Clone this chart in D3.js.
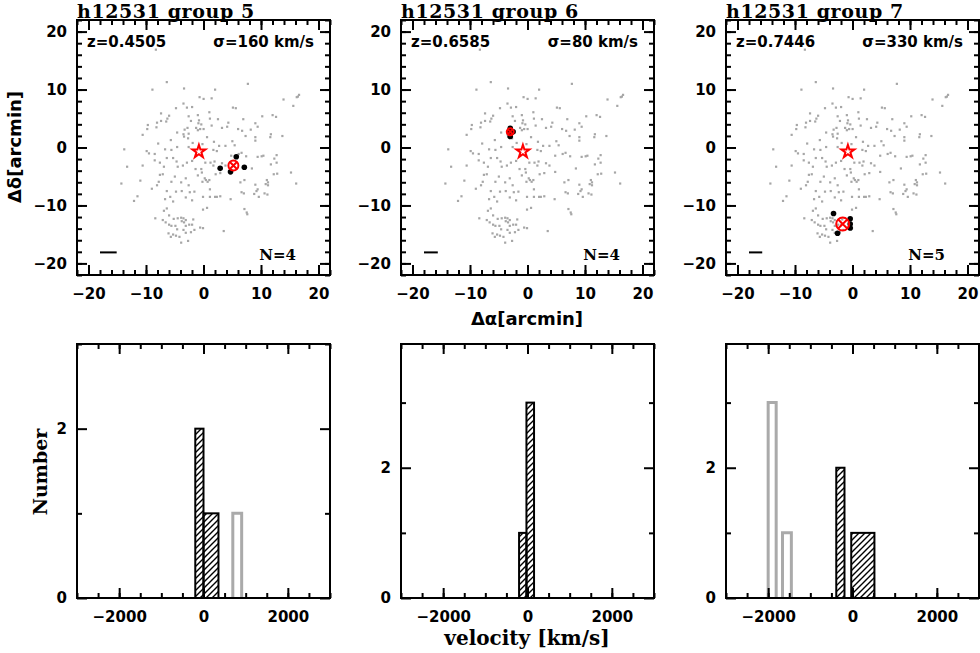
<!DOCTYPE html>
<html>
<head>
<meta charset="utf-8">
<script src="https://d3js.org/d3.v7.min.js"></script>
<style>
  body { margin: 0; background: #fff; }
  svg { display: block; }
  .tick line { stroke: #000; stroke-width: 2; }
  .tick text { font-family: "DejaVu Sans", sans-serif; font-weight: bold; font-size: 15px; fill: #000; }
</style>
</head>
<body>
<script>
// groups
const groupTitles = ["h12531 group 5", "h12531 group 6", "h12531 group 7"];
const groupZ = ["0.4505", "0.6585", "0.7446"];
const groupSigma = [160, 80, 330];
const groupN = [4, 4, 5];
const groupCenter = [[5.2, -3.1], [-3.0, 2.7], [-1.7, -13.2]];
const centerRadius = [5, 3.5, 6.5];
const brightest = [-0.8, -0.7];
const scaleBarMpc = [2.9, 2.4, 2.3];

// member galaxies (arcmin)
const members = [
  [[2.9, -3.6], [4.7, -4.2], [5.7, -1.6], [7.1, -3.4]],
  [[-3.0, 3.3], [-3.0, 1.9], [-2.5, 2.7], [-3.1, 2.6]],
  [[-3.3, -11.4], [-2.6, -14.8], [-0.4, -12.3], [-0.4, -13.2], [-0.4, -13.9]]
];

// all field galaxies with redshifts (arcmin)
const field = [
  [-8.3,16.9],[-6.4,11.3],[-8.9,10.0],[-3.4,10.2],[2.0,10.0],[7.7,11.0],[-0.7,8.7],[0.0,8.4],[1.4,8.5],
  [16.6,9.1],[16.4,8.8],[16.2,8.7],[13.9,8.3],[15.6,7.2],[-4.8,6.8],[-3.5,7.6],[-2.9,6.9],[-2.0,7.0],
  [-7.4,5.9],[-6.0,5.5],[-6.3,5.0],[5.1,6.9],[5.6,6.8],[1.0,6.1],[-2.6,5.4],[-1.0,5.6],[-0.8,4.7],
  [-7.4,4.6],[-6.5,4.5],[-8.1,4.3],[-9.7,3.9],[-8.2,3.5],[1.1,5.0],[2.5,4.9],[4.3,4.3],[10.2,5.4],
  [12.0,5.6],[12.6,5.3],[6.9,4.9],[-2.2,4.6],[-0.9,4.2],[-0.4,4.0],[-1.3,3.4],[-0.6,3.2],[-1.0,3.0],
  [-2.8,3.4],[-3.3,3.1],[9.0,4.2],[9.4,3.6],[8.2,3.1],[3.2,3.4],[4.1,3.6],[6.7,2.9],[6.0,3.2],
  [-4.6,2.6],[-3.5,2.3],[-2.6,2.4],[-10.6,2.2],[-9.8,3.2],[0.0,3.2],[1.4,3.8],[-5.7,1.3],[-3.4,1.9],
  [-2.7,1.6],[0.6,1.8],[11.7,2.3],[11.6,1.8],[13.7,2.0],[9.0,1.8],[9.0,1.2],[7.3,2.0],[-7.9,0.7],
  [-1.9,0.8],[-0.2,0.6],[1.8,1.0],[-4.6,0.1],[-2.6,0.1],[2.7,0.3],[3.8,0.3],[5.0,1.1],[5.4,0.4],
  [-13.8,-0.3],[-9.9,-0.6],[-9.5,-1.0],[-8.5,-1.1],[-6.7,-0.3],[-5.6,-0.4],[1.7,-0.4],[2.3,-0.6],
  [6.6,-0.9],[6.1,-1.1],[4.8,-1.4],[7.4,-1.5],[10.1,-1.5],[9.4,-1.6],[10.4,-1.4],[12.7,-1.3],[12.3,-1.9],
  [-6.4,-1.8],[-8.5,-2.2],[-4.7,-2.4],[-5.3,-1.8],[-2.9,-2.6],[-2.0,-2.3],[0.3,-2.6],[1.2,-2.6],[1.9,-2.4],
  [-13.3,-3.3],[-10.6,-3.1],[-7.6,-2.6],[-6.9,-3.3],[-4.5,-3.3],[-3.6,-3.1],[-1.4,-3.7],[-0.4,-3.7],
  [1.7,-3.1],[3.2,-2.7],[3.8,-3.1],[8.4,-3.6],[11.7,-2.9],[12.7,-2.6],[12.2,-4.6],[12.8,-4.5],[15.2,-4.3],
  [-7.6,-4.7],[-7.1,-4.6],[-5.0,-5.0],[-3.1,-5.3],[-1.0,-4.8],[-0.3,-4.3],[0.2,-5.3],[0.4,-5.6],[0.7,-5.9],
  [-0.2,-5.9],[1.0,-5.6],[2.1,-4.6],[2.9,-4.4],[4.8,-4.2],[-5.6,-5.9],[-7.8,-5.9],[-8.1,-6.5],[-11.0,-5.7],
  [-14.3,-6.2],[-9.0,-7.1],[-3.9,-6.0],[-2.6,-6.5],[1.1,-7.2],[7.1,-5.6],[6.4,-6.0],[11.0,-5.6],[11.2,-6.0],
  [10.8,-6.3],[11.2,-6.5],[9.0,-6.4],[9.4,-7.2],[9.2,-7.5],[16.1,-6.2],[-6.4,-7.5],[-4.8,-7.6],[-3.8,-7.5],
  [-2.4,-7.7],[-1.6,-7.6],[6.6,-7.7],[7.0,-7.9],[8.8,-8.0],[10.6,-7.9],[11.1,-8.1],[9.6,-8.5],[-11.5,-8.4],
  [-12.1,-9.2],[-6.7,-8.9],[-5.8,-8.5],[-5.3,-9.3],[-3.1,-8.6],[-2.0,-9.1],[-0.1,-8.5],[1.1,-8.5],[2.0,-8.5],
  [2.3,-8.5],[4.7,-8.9],[2.9,-8.4],[7.1,-10.6],[7.5,-11.2],[7.6,-11.5],[-0.1,-10.7],[0.6,-10.4],[-6.9,-10.9],
  [-6.4,-10.5],[-6.0,-11.7],[-8.4,-12.2],[-7.1,-12.5],[-6.6,-12.9],[-5.2,-12.3],[-4.5,-12.2],[-3.9,-12.1],
  [-3.5,-12.2],[-3.1,-12.5],[-1.8,-12.4],[-6.0,-13.3],[-5.6,-13.5],[-4.9,-13.5],[-4.6,-14.1],[-3.8,-12.7],
  [-3.4,-12.9],[-3.1,-13.5],[-2.5,-13.3],[-2.0,-13.3],[-1.6,-14.2],[-6.1,-14.8],[-5.3,-15.0],[-5.7,-15.4],
  [-3.5,-14.2],[-3.1,-14.7],[-2.2,-14.6],[-0.6,-13.8],[-0.1,-13.9],[3.5,-14.4],[-4.8,-15.2],[-4.2,-15.4],
  [-3.9,-16.4],[-2.7,-16.1]
];

// velocity histograms: [x0, x1, count]
const histMembers = [
  [[-195, 0, 2], [0, 355, 1]],
  [[-200, -25, 1], [-25, 155, 3]],
  [[-385, -190, 2], [-30, 520, 1]]
];
const histOthers = [
  [[695, 905, 1]],
  [],
  [[-2000, -1810, 3], [-1660, -1450, 1]]
];
const histYMax = [3, 3.9, 3.9];

const W = 980, H = 653;
const panelX = [77, 401, 726];
const pw = 253;
const topY = 20, topH = 255;
const botY = 344, botH = 254;

const svg = d3.select("body").append("svg").attr("width", W).attr("height", H);

const defs = svg.append("defs");
defs.append("pattern")
  .attr("id", "hatch")
  .attr("patternUnits", "userSpaceOnUse")
  .attr("width", 6).attr("height", 6)
  .append("path")
  .attr("d", "M-1,1 l2,-2 M0,6 l6,-6 M5,7 l2,-2")
  .attr("stroke", "#000").attr("stroke-width", 1.4);

function frameAxes(g, x, y, xMajor, xMinor, yMajor, yMinor, yLabels) {
  const x0 = x.range()[0], x1 = x.range()[1];
  const y0 = y.range()[0], y1 = y.range()[1];
  // minor ticks
  g.append("g").attr("transform", `translate(0,${y0})`)
    .call(d3.axisBottom(x).tickValues(xMinor).tickSize(-5).tickFormat(""));
  g.append("g").attr("transform", `translate(0,${y1})`)
    .call(d3.axisTop(x).tickValues(xMinor).tickSize(-5).tickFormat(""));
  g.append("g").attr("transform", `translate(${x0},0)`)
    .call(d3.axisLeft(y).tickValues(yMinor).tickSize(-5).tickFormat(""));
  g.append("g").attr("transform", `translate(${x1},0)`)
    .call(d3.axisRight(y).tickValues(yMinor).tickSize(-5).tickFormat(""));
  // major ticks
  g.append("g").attr("transform", `translate(0,${y0})`)
    .call(d3.axisBottom(x).tickValues(xMajor).tickSize(-10).tickPadding(13).tickFormat(d3.format("")));
  g.append("g").attr("transform", `translate(0,${y1})`)
    .call(d3.axisTop(x).tickValues(xMajor).tickSize(-10).tickFormat(""));
  g.append("g").attr("transform", `translate(${x0},0)`)
    .call(d3.axisLeft(y).tickValues(yMajor).tickSize(-10).tickPadding(10)
      .tickFormat(d => yLabels.includes(d) ? d3.format("")(d) : ""));
  g.append("g").attr("transform", `translate(${x1},0)`)
    .call(d3.axisRight(y).tickValues(yMajor).tickSize(-10).tickFormat(""));
  g.selectAll(".domain").remove();
  g.append("rect")
    .attr("x", x0).attr("y", y1)
    .attr("width", x1 - x0).attr("height", y0 - y1)
    .attr("fill", "none").attr("stroke", "#000").attr("stroke-width", 2);
}

const star = d3.symbol().type(d3.symbolStar).size(52);

groupTitles.forEach((title, i) => {
  // --- sky panel ---
  const x = d3.scaleLinear().domain([-22, 22]).range([panelX[i], panelX[i] + pw]);
  const y = d3.scaleLinear().domain([-22, 22]).range([topY + topH, topY]);
  const g = svg.append("g");

  g.selectAll(".fld").data(field).enter().append("rect")
    .attr("x", d => x(d[0]) - 1).attr("y", d => y(d[1]) - 1)
    .attr("width", 2.2).attr("height", 2.2)
    .attr("fill", "#a6a6a6");

  g.selectAll(".mem").data(members[i]).enter().append("circle")
    .attr("cx", d => x(d[0])).attr("cy", d => y(d[1]))
    .attr("r", 2.8).attr("fill", "#000");

  const cx = x(groupCenter[i][0]), cy = y(groupCenter[i][1]);
  const r = centerRadius[i];
  g.append("circle").attr("cx", cx).attr("cy", cy).attr("r", r)
    .attr("fill", "none").attr("stroke", "#ff0000").attr("stroke-width", 2);
  g.append("path")
    .attr("d", `M${cx - r * 0.7},${cy - r * 0.7}L${cx + r * 0.7},${cy + r * 0.7}M${cx - r * 0.7},${cy + r * 0.7}L${cx + r * 0.7},${cy - r * 0.7}`)
    .attr("stroke", "#ff0000").attr("stroke-width", 2);

  g.append("path")
    .attr("d", star)
    .attr("transform", `translate(${x(brightest[0])},${y(brightest[1])})`)
    .attr("fill", "none").attr("stroke", "#ff0000").attr("stroke-width", 2);

  // 1 Mpc scale bar
  g.append("line")
    .attr("x1", x(-18)).attr("x2", x(-18 + scaleBarMpc[i]))
    .attr("y1", y(-18.1)).attr("y2", y(-18.1))
    .attr("stroke", "#000").attr("stroke-width", 2);

  frameAxes(g, x, y, [-20, -10, 0, 10, 20], d3.range(-22, 23, 2),
    [-20, -10, 0, 10, 20], d3.range(-22, 23, 2), [-20, -10, 0, 10, 20]);

  g.append("text")
    .attr("x", panelX[i]).attr("y", 18)
    .attr("font-family", "DejaVu Serif, serif").attr("font-weight", "bold").attr("font-size", 19)
    .attr("letter-spacing", 0.6)
    .text(title);
  g.append("text")
    .attr("x", panelX[i] + 10).attr("y", topY + 27)
    .attr("font-family", "DejaVu Sans, sans-serif").attr("font-weight", "bold").attr("font-size", 15)
    .text("z=" + groupZ[i]);
  g.append("text")
    .attr("x", panelX[i] + pw - 16).attr("y", topY + 27)
    .attr("text-anchor", "end")
    .attr("font-family", "DejaVu Sans, sans-serif").attr("font-weight", "bold").attr("font-size", 15)
    .text("\u03c3=" + groupSigma[i] + " km/s");
  g.append("text")
    .attr("x", panelX[i] + pw - 34).attr("y", topY + topH - 15)
    .attr("text-anchor", "end")
    .attr("font-family", "DejaVu Serif, serif").attr("font-weight", "bold").attr("font-size", 15)
    .text("N=" + groupN[i]);

  // --- velocity histogram ---
  const hx = d3.scaleLinear().domain([-3000, 3000]).range([panelX[i], panelX[i] + pw]);
  const hy = d3.scaleLinear().domain([0, histYMax[i]]).range([botY + botH, botY]);
  const hg = svg.append("g");

  hg.selectAll(".oth").data(histOthers[i]).enter().append("path")
    .attr("d", d => `M${hx(d[0])},${hy(0)}V${hy(d[2])}H${hx(d[1])}V${hy(0)}`)
    .attr("fill", "none").attr("stroke", "#aaaaaa").attr("stroke-width", 3);

  hg.selectAll(".memh").data(histMembers[i]).enter().append("rect")
    .attr("x", d => hx(d[0])).attr("y", d => hy(d[2]))
    .attr("width", d => hx(d[1]) - hx(d[0])).attr("height", d => hy(0) - hy(d[2]))
    .attr("fill", "url(#hatch)").attr("stroke", "#000").attr("stroke-width", 2);

  const yMaj = [0, 2], yMin = d3.range(1, Math.floor(histYMax[i]) + 1).filter(v => v % 2 === 1);
  frameAxes(hg, hx, hy, [-2000, 0, 2000], d3.range(-3000, 3001, 500),
    yMaj, yMin, [0, 2]);
});

// axis titles
svg.append("text")
  .attr("transform", "translate(21,147) rotate(-90)")
  .attr("text-anchor", "middle")
  .attr("font-family", "DejaVu Sans, sans-serif").attr("font-weight", "bold").attr("font-size", 18)
  .text("\u0394\u03b4[arcmin]");
svg.append("text")
  .attr("x", 527).attr("y", 325)
  .attr("text-anchor", "middle")
  .attr("font-family", "DejaVu Sans, sans-serif").attr("font-weight", "bold").attr("font-size", 18)
  .text("\u0394\u03b1[arcmin]");
svg.append("text")
  .attr("transform", "translate(47,472) rotate(-90)")
  .attr("text-anchor", "middle")
  .attr("font-family", "DejaVu Serif, serif").attr("font-weight", "bold").attr("font-size", 19)
  .text("Number");
svg.append("text")
  .attr("x", 527).attr("y", 645)
  .attr("text-anchor", "middle")
  .attr("font-family", "DejaVu Serif, serif").attr("font-weight", "bold").attr("font-size", 20)
  .text("velocity [km/s]");
</script>
</body>
</html>
